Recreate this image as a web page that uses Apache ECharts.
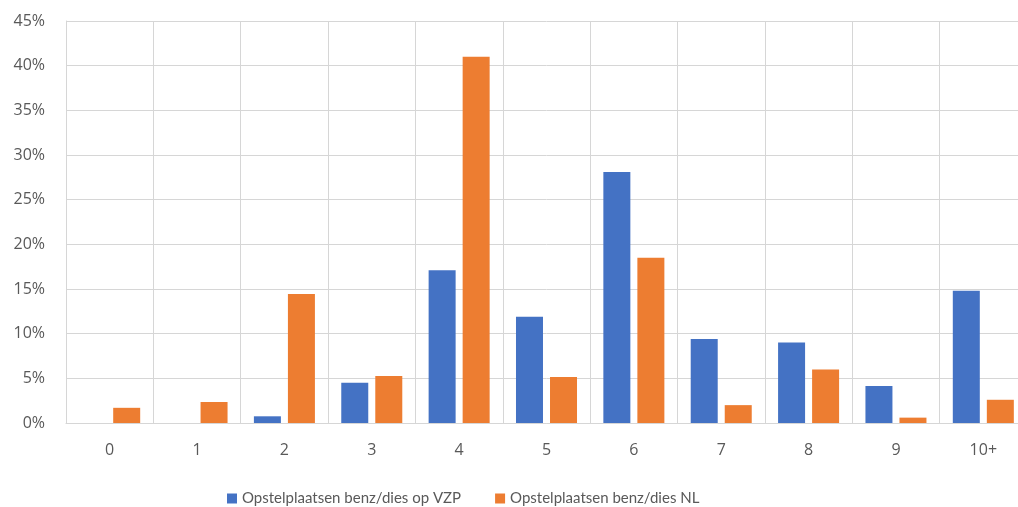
<!DOCTYPE html>
<html>
<head>
  <meta charset="utf-8">
  <style>
    html, body { margin: 0; padding: 0; width: 100%; height: 100%; overflow: hidden; background: #fff; }
  </style>
  <script src="https://cdn.jsdelivr.net/npm/echarts@6/dist/echarts.min.js"></script>
</head>
<body>
  <!-- plot runs past the right edge of the window in the reference, so the container is wider than the viewport -->
  <div id="container" style="width: 1030px; height: 507px;"></div>
  <script>
    var categories = ['0', '1', '2', '3', '4', '5', '6', '7', '8', '9', '10+'];
    var vzp = [0, 0, 0.75, 4.5, 17.1, 11.9, 28.1, 9.4, 9.0, 4.15, 14.8];
    var nl = [1.7, 2.35, 14.45, 5.25, 41.0, 5.15, 18.5, 2.0, 6.0, 0.6, 2.6];
    var seriesNames = ['Opstelplaatsen benz/dies op VZP', 'Opstelplaatsen benz/dies NL'];

    var myChart = echarts.init(document.getElementById('container'), null, { renderer: 'canvas' });

    var gridColor = '#d6d6d6';
    var textColor = '#595959';

    var option = {
      animation: false,
      color: ['#4472c4', '#ed7d31'],
      grid: { left: 66, top: 21, width: 961, height: 402, containLabel: false },
      legend: {
        left: 222,
        top: 486,
        itemWidth: 10,
        itemHeight: 10,
        itemGap: 34,
        icon: 'rect',
        textStyle: { color: textColor, fontSize: 15, fontFamily: 'Lato' },
        data: seriesNames
      },
      xAxis: {
        type: 'category',
        data: categories,
        axisLine: { lineStyle: { color: gridColor } },
        axisTick: { show: false },
        splitLine: { show: true, lineStyle: { color: gridColor, width: 1 } },
        axisLabel: { color: textColor, fontSize: 16, fontFamily: 'Open Sans', margin: 19 }
      },
      yAxis: {
        type: 'value',
        min: 0,
        max: 45,
        interval: 5,
        axisLine: { show: true, lineStyle: { color: gridColor } },
        axisTick: { show: false },
        splitLine: { lineStyle: { color: gridColor, width: 1 } },
        axisLabel: {
          color: textColor, fontSize: 16, fontFamily: 'Open Sans', margin: 21,
          formatter: function (v) { return v + '%'; }
        }
      },
      series: [
        { name: seriesNames[0], type: 'bar', data: vzp, barWidth: 27, barGap: '26%' },
        { name: seriesNames[1], type: 'bar', data: nl, barWidth: 27, barGap: '26%' }
      ]
    };

    myChart.setOption(option);
    window.addEventListener('resize', myChart.resize);
  </script>
</body>
</html>
